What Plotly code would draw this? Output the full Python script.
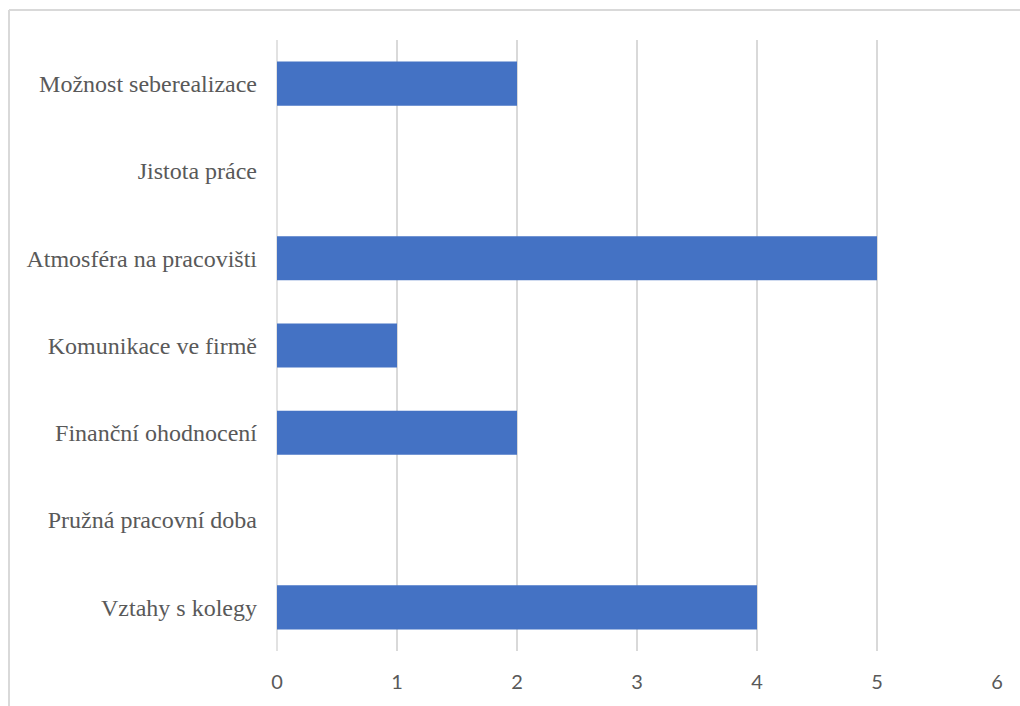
import plotly.graph_objects as go

categories = ["Vztahy s kolegy", "Pružná pracovní doba", "Finanční ohodnocení",
              "Komunikace ve firmě", "Atmosféra na pracovišti", "Jistota práce",
              "Možnost seberealizace"]
values = [4, 0, 2, 1, 5, 0, 2]
x_ticks = [0, 1, 2, 3, 4, 5, 6]

W, H = 1020, 706
L, R, T, B = 277, 23, 40, 55

fig = go.Figure(go.Bar(
    x=values, y=categories, orientation="h",
    marker=dict(color="#4472C4", line=dict(width=0)),
    width=0.505,
))

pw = W - L - R
ph = H - T - B
bx = (9 - L) / pw
by = (H - B - 10) / ph

fig.update_layout(
    width=W, height=H,
    margin=dict(l=L, r=R, t=T, b=B, pad=0),
    paper_bgcolor="white", plot_bgcolor="white",
    showlegend=False,
    xaxis=dict(range=[0, 6], tickvals=x_ticks, showgrid=True, gridcolor="#d9d9d9",
               gridwidth=1.5, zeroline=False, showline=False, ticks="",
               tickfont=dict(family="Lato", size=20, color="#595959"),
               ticklabelstandoff=17),
    yaxis=dict(categoryorder="array", categoryarray=categories, showgrid=False,
               zeroline=False, showline=False, ticks="",
               tickfont=dict(family="Liberation Serif", size=24, color="#595959"),
               ticklabelstandoff=19),
    shapes=[
        dict(type="line", xref="paper", yref="paper", x0=0, x1=0, y0=0, y1=1,
             line=dict(color="#d9d9d9", width=1.5), layer="below"),
        dict(type="line", xref="paper", yref="paper", x0=bx, x1=1.1, y0=by, y1=by,
             line=dict(color="#d9d9d9", width=2)),
        dict(type="line", xref="paper", yref="paper", x0=bx, x1=bx, y0=by, y1=-0.2,
             line=dict(color="#d9d9d9", width=2)),
    ],
)

fig.write_html("out.html")
